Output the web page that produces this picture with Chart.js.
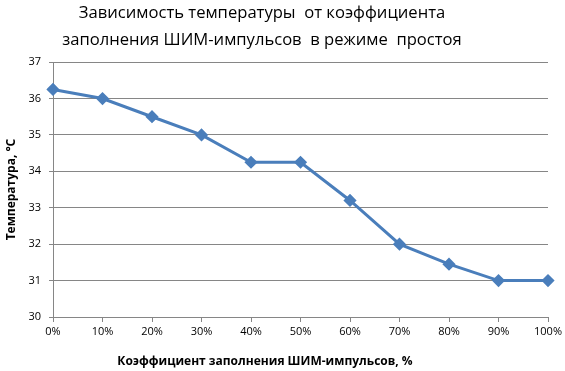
<!DOCTYPE html>
<html>
<head>
<meta charset="utf-8">
<script src="https://cdn.jsdelivr.net/npm/chart.js@4/dist/chart.umd.min.js"></script>
<style>
  html, body { margin: 0; padding: 0; background: #fff; }
  #wrap { width: 565px; height: 371px; }
</style>
</head>
<body>
<div id="wrap"><canvas id="myChart" width="565" height="371"></canvas></div>
<script>
var categories = ['0%', '10%', '20%', '30%', '40%', '50%', '60%', '70%', '80%', '90%', '100%'];
var temperatures = [36.25, 36.0, 35.5, 35.0, 34.25, 34.25, 33.2, 32.0, 31.45, 31.0, 31.0];
var titleLines = ['Зависимость температуры  от коэффициента', 'заполнения ШИМ-импульсов  в режиме  простоя'];
var xTitle = 'Коэффициент заполнения ШИМ-импульсов, %';
var yTitle = 'Температура, °С';

var fontFamily = '"Open Sans", "Noto Sans", sans-serif';
var gridColor = '#868686';

// shift the title block a bit to the left, like the original
var titleShift = {
    id: 'titleShift',
    afterLayout: function(chart){
        var t = chart.titleBlock;
        if(t){
            t.left -= 14;
            t.right -= 14;
        }
    }
};

// x axis title, drawn under the tick labels
var xAxisTitle = {
    id: 'xAxisTitle',
    afterDraw: function(chart){
        var ctx = chart.ctx;
        ctx.save();
        ctx.font = 'bold 12px ' + fontFamily;
        ctx.fillStyle = '#000';
        ctx.textAlign = 'center';
        ctx.textBaseline = 'middle';
        ctx.fillText(xTitle, 265, 362);
        ctx.restore();
    }
};

var ctx = document.getElementById('myChart').getContext('2d');
var myChart = new Chart(ctx, {
    type: 'line',
    data: {
        labels: categories,
        datasets: [{
            data: temperatures,
            borderColor: '#4a7ebb',
            backgroundColor: '#4a7ebb',
            borderWidth: 3,
            pointStyle: 'rectRot',
            pointRadius: 4.5,
            pointHoverRadius: 4.5,
            tension: 0,
            fill: false
        }]
    },
    options: {
        responsive: false,
        animation: false,
        devicePixelRatio: 1,
        layout: {
            padding: { left: 4, right: 17, top: 0, bottom: 30 }
        },
        plugins: {
            legend: { display: false },
            tooltip: { enabled: false },
            title: {
                display: true,
                text: titleLines,
                color: '#000',
                font: { family: fontFamily, size: 16.6, weight: 'normal', lineHeight: 1.6 },
                padding: { top: 0, bottom: 9 }
            }
        },
        scales: {
            x: {
                offset: false,
                grid: {
                    drawOnChartArea: false,
                    drawTicks: true,
                    tickLength: 5,
                    color: gridColor
                },
                border: { color: gridColor, width: 1 },
                ticks: {
                    color: '#000',
                    font: { family: fontFamily, size: 11 },
                    padding: 3,
                    maxRotation: 0,
                    autoSkip: false
                },
                afterFit: function(scale){ scale.height = 24; }
            },
            y: {
                min: 30,
                max: 37,
                grid: {
                    color: gridColor,
                    tickLength: 4
                },
                border: { color: gridColor, width: 1 },
                ticks: {
                    stepSize: 1,
                    color: '#000',
                    font: { family: fontFamily, size: 11 },
                    padding: 8
                },
                title: {
                    display: true,
                    text: yTitle,
                    color: '#000',
                    font: { family: fontFamily, size: 12, weight: 'bold' },
                    padding: { top: 0, bottom: 0 }
                },
                afterFit: function(scale){ scale.width = 49; }
            }
        }
    },
    plugins: [titleShift, xAxisTitle]
});
</script>
</body>
</html>
